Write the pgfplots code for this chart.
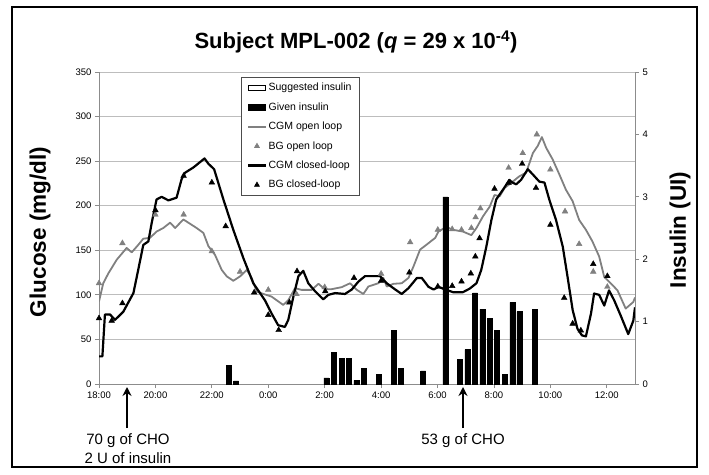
\documentclass[border=0pt]{standalone}
\usepackage{fontspec}
\setmainfont{Liberation Sans}
\usepackage{pgfplots}
\pgfplotsset{compat=1.18}
\usetikzlibrary{arrows.meta}
\definecolor{cgmgray}{HTML}{808080}
\definecolor{gridgray}{HTML}{BDBDBD}
\definecolor{axgray}{HTML}{8C8C8C}

\pgfplotstableread{
x g
0 31
0.12 31
0.21 78
0.39 78
0.57 72
0.86 81
1.22 102
1.39 128
1.57 156
1.75 160
1.87 181
2.04 207
2.22 210
2.46 206
2.75 209
2.93 230
3.05 237
3.35 243
3.74 253
3.88 247
4.08 241
4.41 207
4.76 173
5.12 141
5.47 113
5.88 94
6.12 79
6.35 66
6.59 64
6.71 72
6.89 98
7.07 121
7.24 127
7.42 113
7.66 104
7.95 95
8.13 100
8.37 102
8.72 101
8.96 106
9.20 115
9.43 121
9.67 121
9.96 121
10.2 113
10.5 106
10.73 101
10.97 107.5
11.27 119
11.44 119
11.68 109
11.86 106
12.04 109
12.27 106
12.55 103
12.9 103
13.14 107
13.38 113
13.55 128
13.73 154
13.91 184
14.08 207
14.32 218
14.55 229
14.65 226
14.79 224
14.96 229
15.2 241
15.38 235
15.61 227
15.79 226
15.96 207
16.2 184
16.44 154
16.61 120
16.79 83
16.96 62
17.12 54.5
17.26 53.4
17.44 79
17.55 101.5
17.73 100
17.91 88
18.08 105
18.26 94
18.49 77
18.76 56
18.94 71
19 86
}\cgmclosed

\pgfplotstableread{
x g
0 92.5
0.15 113
0.33 124
0.63 139.5
0.98 152.6
1.16 147.7
1.39 156
1.57 163
1.81 164
2.04 171
2.28 175
2.52 181
2.7 175
2.99 184.6
3.23 179.7
3.46 175
3.7 169.5
3.88 154.5
4.11 145
4.35 128
4.53 120.7
4.76 115.8
5.0 120.7
5.24 128
5.41 119
5.59 103.7
5.83 101
6.12 98
6.53 88.7
6.71 94
6.95 107.5
7.18 105.6
7.54 105.6
7.78 112.4
8.0 106.4
8.25 106.4
8.6 108.6
8.9 113
9.14 105.6
9.37 101
9.55 109.4
9.9 113
10.08 119
10.2 109.4
10.44 112.4
10.73 113
10.97 119
11.15 132
11.38 150.7
11.68 158
11.92 164
12.04 171.4
12.32 176
12.55 173
12.9 171
13.2 167
13.38 175
13.61 188
13.85 199
14.02 212
14.2 210.5
14.38 220
14.61 225.6
14.9 233
15.14 237
15.38 259
15.55 267
15.7 277
15.85 265
16.08 252
16.32 235
16.55 218
16.79 205
17.02 184
17.26 173
17.49 160
17.73 143
17.91 120
18.14 113
18.38 105
18.67 84.6
18.94 92
19 97
}\cgmopen

\pgfplotstableread{
x g
0 113
0.83 158
2.0 190
3.0 190
4.0 149
5.0 126
6.0 105.6
7.0 100.8
8.0 108.6
10.0 123.7
11.03 159
12.01 173
12.52 173.7
12.85 173
13.2 175
13.35 187
13.52 197
14.52 242.5
15.02 259
15.52 280
16.0 240.6
16.52 193.6
17.02 157
17.52 126
18.02 109
}\bgopen

\pgfplotstableread{
x g
0 73.7
0.45 71
0.83 90.6
2.0 195
3.0 233.5
4.0 226
4.49 177
5.5 102.6
6.0 77.4
6.37 60.5
6.75 91.5
7.02 126.5
8.02 104
9.04 119
10.0 115.8
11.0 125
12.01 109.4
12.52 110
12.85 115
13.18 124
13.34 143
13.49 163.5
14.02 219
14.52 225.6
15.0 247
15.49 220
16.0 178.6
16.49 96.6
16.79 67.7
17.08 60
17.52 134.6
18.02 121
}\bgclosed

\pgfplotstableread{
x u
4.61 0.30
4.86 0.05
8.06 0.10
8.32 0.51
8.60 0.41
8.86 0.41
9.12 0.06
9.38 0.25
9.91 0.16
10.44 0.86
10.71 0.25
11.49 0.21
12.28 3.0
12.79 0.40
13.06 0.55
13.33 1.46
13.59 1.20
13.85 1.05
14.11 0.855
14.39 0.15
14.65 1.31
14.90 1.16
15.44 1.20
}\given

\begin{document}
\begin{tikzpicture}
\useasboundingbox (-99pt,-90pt) rectangle (610pt,384pt);
\draw[line width=1.2pt] (-87pt,-83pt) rectangle (598pt,377pt);

\begin{axis}[
 at={(0pt,0pt)}, anchor=south west,
 scale only axis, width=536pt, height=312pt,
 xmin=0, xmax=19, ymin=0, ymax=350,
 axis x line*=bottom, axis y line*=left,
 axis line style={-, draw=axgray, line width=0.8pt},
 xtick={0,2,...,18},
 xticklabels={18:00,20:00,22:00,0:00,2:00,4:00,6:00,8:00,10:00,12:00},
 ytick={0,50,...,350},
 ymajorgrids, grid style={gridgray, line width=0.8pt},
 tick align=outside, major tick length=4pt,
 tick style={axgray, line width=0.8pt},
 tick label style={font=\fontsize{9.5}{11}\selectfont},
 /pgf/number format/assume math mode=true,
]
\addplot[cgmgray, line width=1.8pt, line join=round] table[x=x,y=g] {\cgmopen};
\addplot[black, line width=2.2pt, line join=round] table[x=x,y=g] {\cgmclosed};
\addplot[only marks, mark=triangle*, mark size=3.3pt, cgmgray] table[x=x,y=g] {\bgopen};
\addplot[only marks, mark=triangle*, mark size=3.3pt, black] table[x=x,y=g] {\bgclosed};
\end{axis}

\begin{axis}[
 at={(0pt,0pt)}, anchor=south west,
 scale only axis, width=536pt, height=312pt,
 xmin=0, xmax=19, ymin=0, ymax=5,
 axis x line=none, axis y line*=right,
 axis line style={-, draw=axgray, line width=0.8pt},
 ytick={0,1,...,5},
 tick align=outside, major tick length=4pt,
 tick style={axgray, line width=0.8pt},
 tick label style={font=\fontsize{9.5}{11}\selectfont},
 /pgf/number format/assume math mode=true,
 legend style={at={(0.265,0.984)}, anchor=north west, draw=black!70, line width=0.6pt,
   fill=white, font=\fontsize{10.5}{12.5}\selectfont, row sep=6.3pt, inner xsep=6pt, inner ysep=4pt},
 legend cell align=left,
]
\addlegendimage{area legend, draw=black, fill=white, line width=0.6pt}
\addlegendentry{Suggested insulin}
\addplot[ybar, bar width=0.175, fill=black, draw=black, line width=0.4pt, area legend] table[x=x,y=u] {\given};
\addlegendentry{Given insulin}
\addlegendimage{cgmgray, line width=1.8pt}
\addlegendentry{CGM open loop}
\addlegendimage{only marks, mark=triangle*, mark size=2.8pt, cgmgray}
\addlegendentry{BG open loop}
\addlegendimage{black, line width=2.2pt}
\addlegendentry{CGM closed-loop}
\addlegendimage{only marks, mark=triangle*, mark size=2.8pt, black}
\addlegendentry{BG closed-loop}
\end{axis}

\node[font=\fontsize{22}{26}\selectfont\bfseries] at (257pt,342pt) {Subject MPL-002 (\textit{q} = 29 x 10\textsuperscript{-4})};
\node[rotate=90, font=\fontsize{22.5}{26}\selectfont\bfseries] at (-59pt,152pt) {Glucose (mg/dl)};
\node[rotate=90, font=\fontsize{22.5}{26}\selectfont\bfseries] at (581pt,154pt) {Insulin (UI)};

\draw[line width=2pt, -{Stealth[length=9pt,width=9pt]}] (28pt,-44pt) -- (28pt,-3pt);
\draw[line width=2pt, -{Stealth[length=9pt,width=9pt]}] (364pt,-44pt) -- (364pt,-3pt);
\node[font=\fontsize{15}{18}\selectfont] at (29pt,-57pt) {70 g of CHO};
\node[font=\fontsize{15}{18}\selectfont] at (29pt,-74pt) {2 U of insulin};
\node[font=\fontsize{15}{18}\selectfont] at (364pt,-57pt) {53 g of CHO};
\end{tikzpicture}
\end{document}
